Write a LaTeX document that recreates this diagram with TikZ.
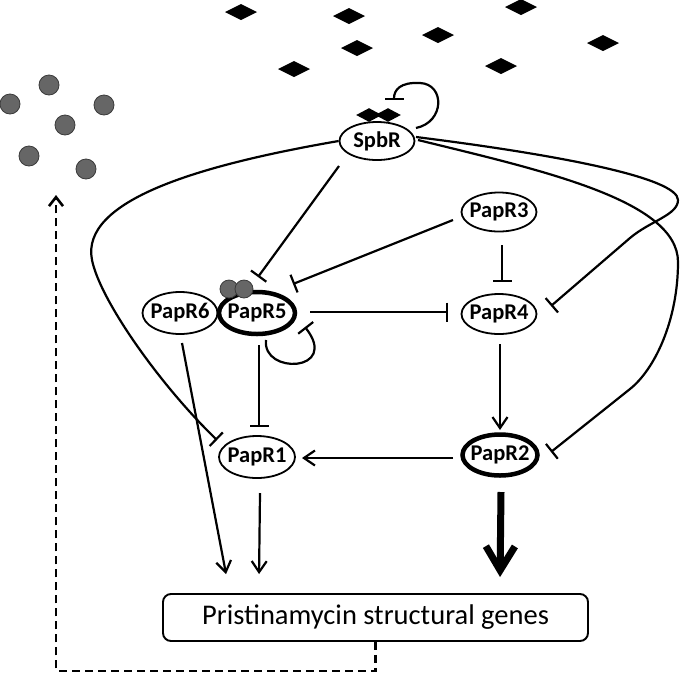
\documentclass[tikz,border=0pt]{standalone}
\usepackage{fontspec}
\setmainfont{Carlito}
\usetikzlibrary{arrows.meta,calc,shapes.geometric}
\definecolor{molfill}{HTML}{666666}
\definecolor{molline}{HTML}{3A3A3A}
\begin{document}
\begin{tikzpicture}[x=1pt,y=-1pt,
  gene/.style={ellipse,draw,line width=1.8pt,inner xsep=-3pt,inner ysep=0pt,
    font=\fontsize{22.5}{26}\selectfont\bfseries},
  keygene/.style={gene,line width=4.5pt},
  act/.style={line width=2.2pt,-{Straight Barb[length=11pt,width=15pt]}},
  bigact/.style={line width=7pt,-{Straight Barb[length=24pt,width=29pt]}},
  inh/.style={line width=2.2pt,-{Bar[width=19pt]}},
  feedback/.style={line width=2.6pt,dash pattern=on 8pt off 5pt,-{Straight Barb[length=9pt,width=14pt]}},
  mol/.style={fill=molfill,draw=molline,line width=0.8pt},
  lig/.pic={\fill (-16,0) -- (0,-8) -- (16,0) -- (0,8) -- cycle;}
]
\useasboundingbox (0,0) rectangle (680,673);

% ligand diamonds
\foreach \p in {(241,12),(349,16),(521,7),(438,35),(357,48),(294,69),(501,66),(603,43)}
  \pic at \p {lig};

% molecules (circles)
\foreach \p in {(49,85),(10,104),(104,105),(65,125),(29,156),(86,169)}
  \path[mol] \p circle[radius=10];

% nodes
\node[gene,minimum width=75pt,minimum height=38pt] (spbr) at (377,141) {SpbR};
\node[gene,minimum width=75pt,minimum height=39pt] (papr3) at (499,212) {PapR3};
\node[gene,minimum width=75pt,minimum height=40pt] (papr4) at (499,314) {PapR4};
\node[keygene,minimum width=75pt,minimum height=41pt] (papr2) at (500,455) {PapR2};
\node[gene,minimum width=76pt,minimum height=42pt] (papr1) at (257,457) {PapR1};
\node[gene,minimum width=75pt,minimum height=42pt] (papr6) at (180,313) {PapR6};
\node[keygene,minimum width=76pt,minimum height=42pt] (papr5) at (257,313) {PapR5};
\node[draw,rounded corners=8pt,line width=1.9pt,minimum width=425pt,minimum height=47pt,
  inner sep=0pt,font=\fontsize{28.5}{34}\selectfont] (box) at (375.5,617.5) {Pristinamycin structural genes};

% ligands bound to SpbR, molecules bound to PapR5
\pic[xscale=0.8,yscale=0.85] at (369,115) {lig};
\pic[xscale=0.8,yscale=0.85] at (388,115) {lig};
\path[mol] ($(papr5)+(-28,-24)$) circle[radius=9];
\path[mol] ($(papr5)+(-13,-24)$) circle[radius=9];

% SpbR self repression
\draw[inh] ($(spbr)+(39,-13)$) .. controls ($(spbr)+(68,-19)$) and ($(spbr)+(68,-57)$) ..
  ($(spbr)+(43,-58)$) .. controls ($(spbr)+(23,-59)$) and ($(spbr)+(17,-51)$) .. ($(spbr)+(17,-41)$);

% SpbR -> PapR1 (left loop)
\draw[inh] (spbr.west) .. controls (200,165) and (80,200) .. (92,260)
  .. controls (100,300) and (160,385) .. ($(papr1)+(-40,-17)$);

% SpbR -> PapR5
\draw[inh] ($(spbr)+(-38,25)$) -- ($(papr5)+(1,-36)$);

% SpbR -> PapR4
\draw[inh] ($(spbr)+(39,-4)$) .. controls (560,155) and (678,178) .. (678,200)
  .. controls (678,215) and (650,221) .. (630,238) -- ($(papr4)+(52,-8)$);

% SpbR -> PapR2
\draw[inh] ($(spbr)+(41,-1)$) .. controls (540,170) and (678,200) .. (678,262)
  .. controls (678,320) and (655,369) .. (630,389) -- ($(papr2)+(51,-3)$);

% PapR3 -> PapR5, PapR4
\draw[inh] ($(papr3)+(-46,8)$) -- ($(papr5)+(36,-29)$);
\draw[inh] ($(papr3)+(3,33)$) -- ($(papr4)+(3,-32)$);

% PapR5 -> PapR4, self, PapR1
\draw[inh] ($(papr5)+(53,-1)$) -- ($(papr4)+(-51,-2)$);
\draw[inh] ($(papr5)+(9,27)$) .. controls ($(papr5)+(5,62)$) and ($(papr5)+(83,59)$) .. ($(papr5)+(48,14)$);
\draw[inh] ($(papr5)+(2,32)$) -- ($(papr1)+(2,-30)$);

% activations
\draw[act] ($(papr4)+(1,30)$) -- ($(papr2)+(0,-25)$);
\draw[act] ($(papr2)+(-47,3)$) -- ($(papr1)+(45,1)$);
\draw[act] ($(papr6)+(2,30)$) -- ($(box.north west)+(64,-19)$);
\draw[act] ($(papr1)+(3,36)$) -- ($(box.north west)+(97,-19)$);
\draw[bigact] ($(papr2)+(1,37)$) -- ($(box.north west)+(338,-16)$);

% feedback to molecules
\coordinate (dtip) at (56,195);
\draw[feedback] (box.south) -- ++(0,29) -| (dtip);
\end{tikzpicture}
\end{document}
